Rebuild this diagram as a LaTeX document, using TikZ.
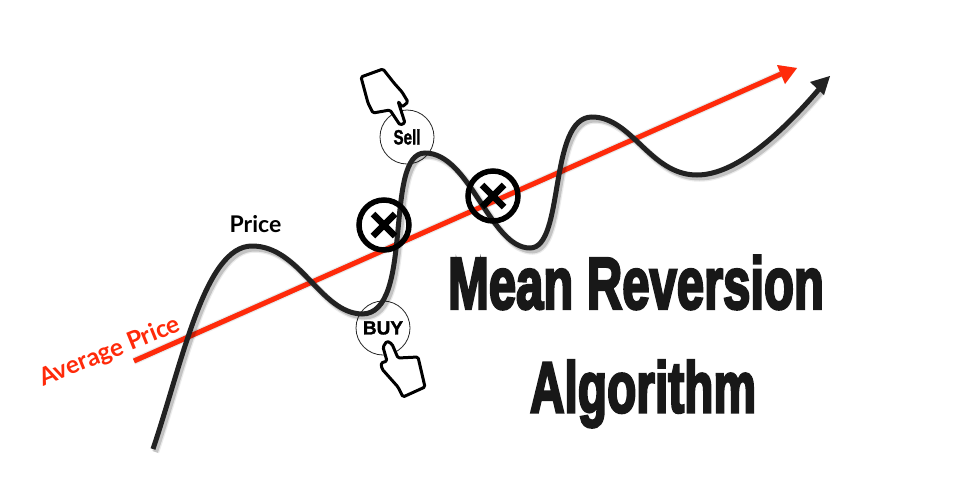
\documentclass[tikz,border=0pt]{standalone}
\usepackage{fontspec}
\setmainfont{Lato}
\newfontfamily\titlefont{Liberation Sans Bold}[FakeBold=4]
\newfontfamily\tagfont{Liberation Sans Bold}[FakeBold=1.5]
\newfontfamily\handfont{Lato Bold}
\usetikzlibrary{calc}
\definecolor{curveink}{HTML}{222222}
\definecolor{redline}{HTML}{FF2A0A}
\definecolor{titleink}{HTML}{181818}
\tikzset{
  x=1pt,y=-1pt,
  shadowa/.style={line width=7.5pt,draw=black,opacity=.08,line cap=butt},
  shadowb/.style={line width=5pt,draw=black,opacity=.17,line cap=butt},
  curveline/.style={line width=5pt,draw=curveink},
  avgline/.style={line width=5pt,draw=redline},
  crossring/.style={circle,draw=black,line width=5.5pt,minimum size=50pt,inner sep=0pt,fill=none},
  crossbar/.style={line width=6.5pt,draw=black},
  tagring/.style={circle,draw=black!85,line width=.8pt,minimum size=54pt,inner sep=0pt,fill=white},
  handshape/.style={draw=black,line width=3pt,fill=white,line join=round,rounded corners=1.5pt},
  titletext/.style={inner sep=0pt,text=titleink},
}
\def\pricepath{(153,449) .. controls (183,360) and (205,246) .. (252,246)
 .. controls (300,246) and (320,313) .. (362,314)
 .. controls (415,314) and (383,153) .. (425,153)
 .. controls (470,153) and (490,248) .. (530,248)
 .. controls (565,248) and (548,117) .. (592,117)
 .. controls (632,117) and (650,175) .. (697,175)
 .. controls (735,175) and (780,135) .. (820,88)}
\begin{document}
\begin{tikzpicture}
\useasboundingbox (0,0) rectangle (972,477);
\fill[white] (0,0) rectangle (972,477);
% tag circles
\node[tagring] (sell) at (407,137) {\tagfont\resizebox{27pt}{15pt}{Sell}};
\node[tagring] (buy) at (383,328) {\tagfont\fontsize{19}{19}\selectfont BUY};
% average line
\coordinate (avgstart) at (134,361);
\coordinate (avgneck) at (781,74);
\coordinate (avgtip) at (797,68);
\coordinate (avgheadA) at (777,65);
\coordinate (avgheadB) at (785,84);
\begin{scope}[shift={(2.5,3)}]
\draw[shadowa] (avgstart) -- (avgneck);
\draw[shadowb] (avgstart) -- (avgneck);
\fill[black,opacity=.14] (avgtip) -- (avgheadA) -- (avgheadB) -- cycle;
\end{scope}
\draw[avgline] (avgstart) -- (avgneck);
\fill[redline] (avgtip) -- (avgheadA) -- (avgheadB) -- cycle;
% price curve
\coordinate (pricetip) at (830,76);
\coordinate (priceheadA) at (810,82);
\coordinate (priceheadB) at (824,95);
\begin{scope}[shift={(2.5,3)}]
\draw[shadowa] \pricepath;
\draw[shadowb] \pricepath;
\fill[black,opacity=.16] (pricetip) -- (priceheadA) -- (priceheadB) -- cycle;
\end{scope}
\draw[curveline] \pricepath;
\fill[curveink] (pricetip) -- (priceheadA) -- (priceheadB) -- cycle;
% crossing markers
\node[crossring] (crossA) at (384,225) {};
\node[crossring] (crossB) at (493,196) {};
\draw[crossbar] ($(crossA)+(-11,-11)$) -- ($(crossA)+(11,11)$);
\draw[crossbar] ($(crossA)+(11,-11)$) -- ($(crossA)+(-11,11)$);
\draw[crossbar] ($(crossB)+(-11,-11)$) -- ($(crossB)+(11,11)$);
\draw[crossbar] ($(crossB)+(11,-11)$) -- ($(crossB)+(-11,11)$);
% hands
\draw[handshape] (361,77) -- (383,69) -- (394,83) -- (402,92) -- (408,102) -- (402,107) -- (398,101) -- (405,123) -- (400,125) -- (390,110) -- (373,113) -- (368,103) -- cycle;
\draw[handshape] (387,341) -- (392,344) -- (398,358) -- (418,357) -- (425,387) -- (403,397) -- (398,387) -- (382,369) -- (381,363) -- (387,361) -- (383,347) -- cycle;
% labels
\node[inner sep=0pt] (pricelabel) at (255.5,224) {\handfont\fontsize{23}{23}\selectfont Price};
\node[inner sep=0pt,text=redline,rotate=22] (avglabel) at (110,352) {\handfont\fontsize{24.5}{24.5}\selectfont Average Price};
\node[titletext] (titleA) at (636,282.5) {\titlefont\resizebox{376pt}{53pt}{Mean Reversion}};
\node[titletext,anchor=north] (titleB) at (643,360) {\titlefont\resizebox{226pt}{52pt}{Algorithm}};
\end{tikzpicture}
\end{document}
